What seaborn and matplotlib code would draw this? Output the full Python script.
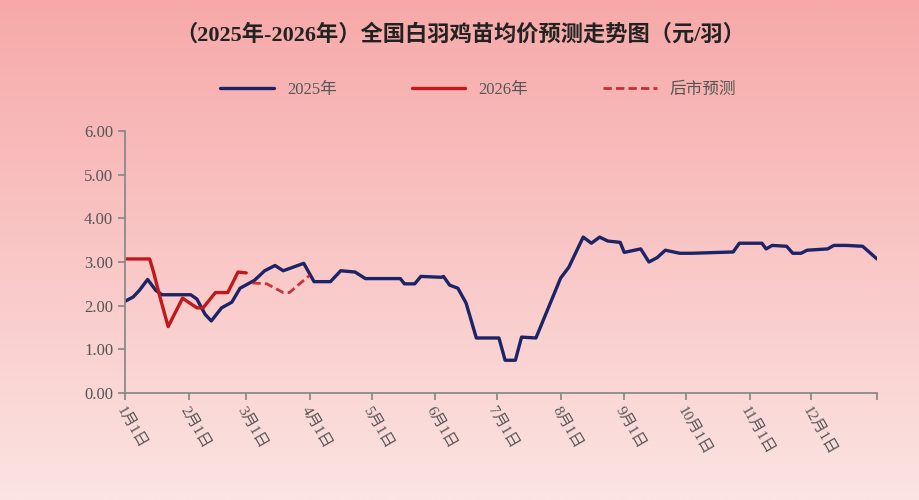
import numpy as np
import pandas as pd
import matplotlib
matplotlib.use("Agg")
import matplotlib.pyplot as plt
import seaborn as sns

sns.set_theme(style="white")
plt.rcParams['font.family'] = ['Liberation Serif', 'Noto Sans CJK SC']

# 2025年 (day of year, 元/羽)
day_2025 = [0, 4, 7, 11, 15, 18, 32, 35, 39, 42, 47, 52, 56, 63, 68, 73, 77, 80, 87,
            92, 100, 105, 112, 117, 134, 136, 141, 144, 155, 154, 158, 162, 166, 171,
            182, 185, 190, 193, 200, 212, 216, 223, 227, 231, 235, 241, 243, 251, 255,
            259, 263, 270, 276, 296, 299, 310, 312, 315, 322, 325, 329, 332, 342, 345,
            351, 359, 366]
val_2025 = [2.1, 2.2, 2.35, 2.6, 2.35, 2.25, 2.25, 2.15, 1.8, 1.65, 1.95, 2.08, 2.4,
            2.58, 2.8, 2.92, 2.8, 2.85, 2.97, 2.55, 2.55, 2.8, 2.77, 2.62, 2.62, 2.5,
            2.5, 2.67, 2.67, 2.65, 2.47, 2.4, 2.06, 1.26, 1.26, 0.75, 0.75, 1.28, 1.26,
            2.63, 2.88, 3.57, 3.43, 3.57, 3.48, 3.45, 3.22, 3.3, 3.0, 3.1, 3.27, 3.2,
            3.2, 3.23, 3.43, 3.43, 3.3, 3.38, 3.36, 3.2, 3.2, 3.27, 3.3, 3.38, 3.38,
            3.36, 3.07]
# 2026年
day_2026 = [1, 12, 14, 17, 21, 28, 35, 38, 44, 50, 55, 59]
val_2026 = [3.07, 3.07, 2.75, 2.2, 1.52, 2.17, 1.95, 1.95, 2.3, 2.3, 2.77, 2.75]
# 后市预测
day_fc = [62, 69, 77, 80, 90]
val_fc = [2.52, 2.5, 2.3, 2.3, 2.7]

month_days = [0, 31, 59, 90, 120, 151, 181, 212, 243, 273, 304, 334]
month_labels = [f"{m}月1日" for m in range(1, 13)]

fig = plt.figure(figsize=(9.2, 5.0), dpi=100)
# background gradient
bg = fig.add_axes([0, 0, 1, 1], zorder=-10)
grad = np.linspace(0, 1, 256).reshape(-1, 1)
cmap = matplotlib.colors.LinearSegmentedColormap.from_list("bg", ["#f7a9a9", "#fbe4e2"])
bg.imshow(grad, aspect='auto', cmap=cmap, extent=[0, 1, 0, 1], origin='upper')
bg.axis('off')

ax = fig.add_axes([125 / 920, 1 - 393 / 500, (877 - 125) / 920, (393 - 131) / 500])
ax.patch.set_alpha(0)

sns.lineplot(x=day_2025, y=val_2025, ax=ax, color='#1c2366', lw=2.4, label='2025年')
sns.lineplot(x=day_2026, y=val_2026, ax=ax, color='#c0181c', lw=2.4, label='2026年')
sns.lineplot(x=day_fc, y=val_fc, ax=ax, color='#c0181c', lw=2.0, ls=(0, (3, 1.5)),
             alpha=0.85, label='后市预测')

ax.set_xlim(0, 366)
ax.set_ylim(0, 6)
ax.set_yticks(np.arange(0, 6.01, 1))
ax.set_yticklabels([f"{v:.2f}" for v in np.arange(0, 6.01, 1)], color='#555555', fontsize=12)
ax.set_xticks(month_days + [366])
ax.set_xticklabels(month_labels + [''], rotation=-60, ha='left', va='top',
                   rotation_mode='anchor', color='#555555', fontsize=11)
ax.tick_params(axis='both', direction='out', length=5, color='#888888', left=True, bottom=True)
for s in ['top', 'right']:
    ax.spines[s].set_visible(False)
for s in ['left', 'bottom']:
    ax.spines[s].set_color('#888888')
ax.set_xlabel('')
ax.set_ylabel('')

ax.legend(loc='upper center', bbox_to_anchor=(0.47, 1.245), ncol=3, frameon=False,
          fontsize=12, handlelength=3.2, columnspacing=4.5, labelcolor='#555555')

fig.text(0.5, 0.93, "（2025年-2026年）全国白羽鸡苗均价预测走势图（元/羽）",
         ha='center', va='center', fontsize=16, fontweight='bold', color='#222222')

fig.savefig('out.png', dpi=100)
